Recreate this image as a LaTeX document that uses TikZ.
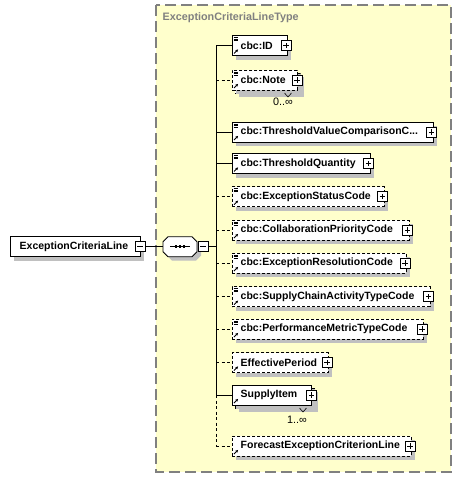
\documentclass[tikz,border=0pt]{standalone}
\usepackage{fontspec}
\setmainfont{Liberation Sans}
\usetikzlibrary{shadows,arrows.meta}
\definecolor{yel}{HTML}{FFFFCC}
\definecolor{shd}{HTML}{C0C0C0}
\definecolor{bord}{HTML}{808080}
\newcommand{\mkplus}[3]{%
  \node[pmbox] (#1) at (#2,#3) {};
  \draw[line width=0.6pt] ([xshift=-2.6pt]#1.center) -- ([xshift=2.6pt]#1.center)
        ([yshift=-2.6pt]#1.center) -- ([yshift=2.6pt]#1.center);}
\newcommand{\mkminus}[3]{%
  \node[pmbox] (#1) at (#2,#3) {};
  \draw[line width=0.6pt] ([xshift=-2.6pt]#1.center) -- ([xshift=2.6pt]#1.center);}
\newcommand{\docicon}[2]{%
  \draw[line width=0.55pt] (#1+1.5,#2+1.8) -- ++(4.5,0) (#1+1.5,#2+3.4) -- ++(4.5,0) (#1+1.5,#2+5.0) -- ++(4.5,0);}
\newcommand{\refarrow}[2]{%
  \draw[line width=0.8pt,-{Latex[length=2.6pt,width=2.8pt]}] (#1+2,#2+18) -- (#1+6.2,#2+13.8);}
\begin{document}
\begin{tikzpicture}[x=1pt,y=-1pt,
  lbl/.style={font=\bfseries\fontsize{10.5}{12}\selectfont, inner sep=0pt, anchor=west, text=black},
  mult/.style={font=\fontsize{10.8}{12}\selectfont, inner sep=0pt, text=black},
  shadowed/.style={drop shadow={shadow xshift=4pt, shadow yshift=-4pt, fill=shd, opacity=1}},
  elembox/.style={draw=black, fill=white, line width=0.9pt, inner sep=0pt, minimum height=20pt, anchor=west, shadowed},
  optbox/.style={elembox, dash pattern=on 3pt off 2pt},
  backbox/.style={elembox},
  optback/.style={optbox},
  pmbox/.style={draw=black, fill=white, line width=0.6pt, minimum size=10pt, inner sep=0pt},
  conn/.style={draw=black, line width=0.9pt},
  optconn/.style={conn, dash pattern=on 3pt off 2.5pt}
]
\useasboundingbox (0,0) rectangle (462,479);
\fill[white] (0,0) rectangle (462,479);

% type box
\draw[draw=bord, fill=yel, line width=1.5pt, dash pattern=on 11pt off 5pt] (156,5) rectangle (451,472);
\node[font=\bfseries\fontsize{10.8}{12}\selectfont, text=bord, inner sep=0pt, anchor=west] (title) at (162.5,18) {ExceptionCriteriaLineType};

% main element
\node[elembox, minimum width=130pt] (main) at (10,246.7) {};
\node[lbl] (mainl) at (19.5,246.7) {ExceptionCriteriaLine};
\mkminus{mainm}{140}{246.7}

% sequence compositor
\fill[shd] (172,240.7) -- (196,240.7) -- (201,245.7) -- (201,255.7) -- (196,260.7) -- (172,260.7) -- (167,255.7) -- (167,245.7) -- cycle;
\draw[fill=white, line width=0.9pt] (168,236.7) -- (192,236.7) -- (197,241.7) -- (197,251.7) -- (192,256.7) -- (168,256.7) -- (163,251.7) -- (163,241.7) -- cycle;
\node[minimum width=34pt, minimum height=20pt, inner sep=0pt] (seq) at (180,246.7) {};
\draw[line width=1pt] (170,246.7) -- (190,246.7);
\foreach \xx in {176,180,184} \fill (\xx-1.4,245.3) rectangle (\xx+1.4,248.1);
\mkminus{seqm}{203}{246.7}
\draw[conn] (mainm.east) -- (seq.west);
\coordinate (sp) at (216,246.7);
\draw[conn] (seqm.east) -- (sp);

% spine
\coordinate (top) at (216,45.5);
\coordinate (lastreq) at (216,395);
\coordinate (bot) at (216,446);
\draw[conn] (top) -- (lastreq);
\draw[optconn] (lastreq) -- (bot);

% children
% cbc:ID
\node[elembox, minimum width=55pt] (id) at (232,45.5) {};
\docicon{232}{35.5}\refarrow{232}{35.5}
\node[lbl] (idl) at (240.5,45.5) {cbc:ID};
\mkplus{idp}{286}{45.5}
\draw[conn] (top) -- (id.west);

% cbc:Note (stacked, optional)
\node[optback, minimum width=65pt] (noteb) at (235,83) {};
\node[optbox, minimum width=65pt, drop shadow={opacity=0}] (note) at (232,80) {};
\docicon{232}{70}\refarrow{232}{70}
\node[lbl] (notel) at (240.5,80) {cbc:Note};
\mkplus{notep}{297}{80}
\draw[line width=0.6pt] (284.5,93) -- (288,97) -- (291.5,93);
\node[mult] (notem) at (283,101.5) {0..∞};
\coordinate (c2) at (216,80);
\draw[optconn] (c2) -- (note.west);

% cbc:ThresholdValueComparisonC...
\node[elembox, minimum width=200.5pt] (tvc) at (232,132) {};
\docicon{232}{122}\refarrow{232}{122}
\node[lbl] (tvcl) at (240.5,132) {cbc:ThresholdValueComparisonC...};
\mkplus{tvcp}{431.5}{132}
\coordinate (c3) at (216,132);
\draw[conn] (c3) -- (tvc.west);

% cbc:ThresholdQuantity
\node[elembox, minimum width=137.5pt] (tq) at (232,163.5) {};
\docicon{232}{153.5}\refarrow{232}{153.5}
\node[lbl] (tql) at (240.5,163.5) {cbc:ThresholdQuantity};
\mkplus{tqp}{368.5}{163.5}
\coordinate (c4) at (216,163.5);
\draw[conn] (c4) -- (tq.west);

% cbc:ExceptionStatusCode
\node[optbox, minimum width=151.5pt] (esc) at (232,196.7) {};
\docicon{232}{186.7}\refarrow{232}{186.7}
\node[lbl] (escl) at (240.5,196.7) {cbc:ExceptionStatusCode};
\mkplus{escp}{382.5}{196.7}
\coordinate (c5) at (216,196.7);
\draw[optconn] (c5) -- (esc.west);

% cbc:CollaborationPriorityCode
\node[optbox, minimum width=176.5pt] (cpc) at (232,230) {};
\docicon{232}{220}\refarrow{232}{220}
\node[lbl] (cpcl) at (240.5,230) {cbc:CollaborationPriorityCode};
\mkplus{cpcp}{407.5}{230}
\coordinate (c6) at (216,230);
\draw[optconn] (c6) -- (cpc.west);

% cbc:ExceptionResolutionCode
\node[optbox, minimum width=174pt] (erc) at (232,263) {};
\docicon{232}{253}\refarrow{232}{253}
\node[lbl] (ercl) at (240.5,263) {cbc:ExceptionResolutionCode};
\mkplus{ercp}{405}{263}
\coordinate (c7) at (216,263);
\draw[optconn] (c7) -- (erc.west);

% cbc:SupplyChainActivityTypeCode
\node[optbox, minimum width=197.5pt] (scat) at (232,296.7) {};
\docicon{232}{286.7}\refarrow{232}{286.7}
\node[lbl] (scatl) at (240.5,296.7) {cbc:SupplyChainActivityTypeCode};
\mkplus{scatp}{428.5}{296.7}
\coordinate (c8) at (216,296.7);
\draw[optconn] (c8) -- (scat.west);

% cbc:PerformanceMetricTypeCode
\node[optbox, minimum width=191pt] (pmt) at (232,329) {};
\docicon{232}{319}\refarrow{232}{319}
\node[lbl] (pmtl) at (240.5,329) {cbc:PerformanceMetricTypeCode};
\mkplus{pmtp}{422}{329}
\coordinate (c9) at (216,329);
\draw[optconn] (c9) -- (pmt.west);

% EffectivePeriod
\node[optbox, minimum width=96pt] (ep) at (232,362.5) {};
\refarrow{232}{352.5}
\node[lbl] (epl) at (240.5,362.5) {EffectivePeriod};
\mkplus{epp}{327}{362.5}
\coordinate (c10) at (216,362.5);
\draw[optconn] (c10) -- (ep.west);

% SupplyItem (stacked)
\node[backbox, minimum width=79pt] (sib) at (235,398) {};
\node[elembox, minimum width=79pt, drop shadow={opacity=0}] (si) at (232,395) {};
\refarrow{232}{385}
\node[lbl] (sil) at (240.5,395) {SupplyItem};
\mkplus{sip}{311.5}{395}
\draw[line width=0.6pt] (299.5,408) -- (303,412) -- (306.5,408);
\node[mult] (sim) at (297,420) {1..∞};
\draw[conn] (lastreq) -- (si.west);

% ForecastExceptionCriterionLine
\node[optbox, minimum width=179pt] (fec) at (232,446) {};
\refarrow{232}{436}
\node[lbl] (fecl) at (240.5,446) {ForecastExceptionCriterionLine};
\mkplus{fecp}{410}{446}
\draw[optconn] (bot) -- (fec.west);
\end{tikzpicture}
\end{document}
